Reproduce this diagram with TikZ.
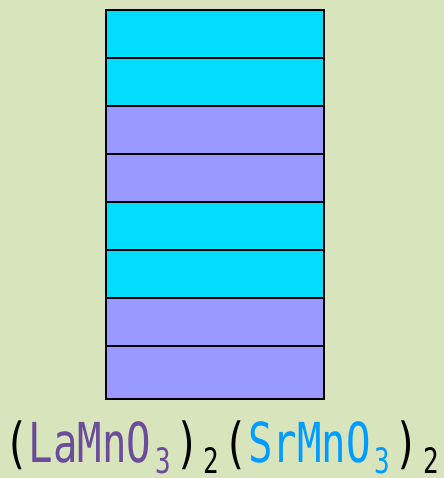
\documentclass[tikz,border=0pt]{standalone}
\usepackage{tikz}
\usepackage{xcolor}
\usepackage{graphicx}
\usepackage{fontspec}
\usetikzlibrary{positioning}
\newfontfamily\gothic[FakeStretch=0.74]{DejaVu Sans Mono}
\definecolor{PaperOlive}{HTML}{D8E4BC}
\definecolor{LayerCyan}{HTML}{00DDFF}
\definecolor{LayerLavender}{HTML}{9999FF}
\definecolor{LaPurple}{HTML}{6B4C9A}
\definecolor{SrBlue}{HTML}{009CFF}
\newcommand\chemsub[1]{\raisebox{-11pt}{\makebox[24pt]{\fontsize{35pt}{35pt}\selectfont #1}}}
\tikzset{
    % Flat layers of the stack
    layer/.style={
        rectangle,
        draw=black,
        line width=1.1pt,
        minimum width=218pt,
        minimum height=48pt,
        inner sep=0pt,
        outer sep=0pt
    },
    layer cyan/.style={
        layer,
        fill=LayerCyan
    },
    layer lavender/.style={
        layer,
        fill=LayerLavender
    },
    formula/.style={
        inner sep=0pt,
        font=\gothic\fontsize{55pt}{55pt}\selectfont
    }
}
\begin{document}
\begin{tikzpicture}[node distance=0pt]
        % Background
        \fill[PaperOlive] (0,0) rectangle (444pt,-478pt);
        \useasboundingbox (0,0) rectangle (444pt,-478pt);

        % Layers
        \node[layer cyan, anchor=north west] (layer1) at (106pt,-10pt) {};
        \node[layer cyan, below=of layer1] (layer2) {};
        \node[layer lavender, below=of layer2] (layer3) {};
        \node[layer lavender, below=of layer3] (layer4) {};
        \node[layer cyan, below=of layer4] (layer5) {};
        \node[layer cyan, below=of layer5] (layer6) {};
        \node[layer lavender, below=of layer6] (layer7) {};
        \node[layer lavender, minimum height=53pt, below=of layer7] (layer8) {};

        % Formula
        \node[formula, anchor=base west] (formula) at (4pt,-462pt)
              {(\textcolor{LaPurple}{LaMnO\chemsub{3}})\chemsub{2}(\textcolor{SrBlue}{SrMnO\chemsub{3}})\chemsub{2}};
    \end{tikzpicture}
\end{document}
